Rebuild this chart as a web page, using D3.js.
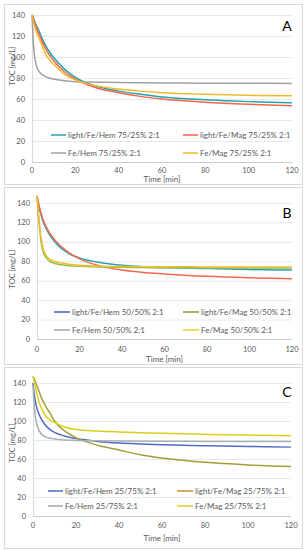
<!DOCTYPE html>
<html>
<head>
<meta charset="utf-8">
<script src="https://cdn.jsdelivr.net/npm/d3@7"></script>
<style>
    body { margin: 0; background: #fff; }
    svg { display: block; font-family: "Lato", "Liberation Sans", sans-serif; }
</style>
</head>
<body>
<svg id="chart" width="307" height="550"></svg>
<script>
// sample times (min), shared by every series
const TIMES = [0, 0.5, 1, 2, 3, 4, 6, 8, 10, 15, 20, 30, 40, 50, 60, 80, 100, 120]
const X_TICKS = [0, 20, 40, 60, 80, 100, 120]
const Y_TICKS = [0, 20, 40, 60, 80, 100, 120, 140]

// panel A: 75/25%
const A_NAMES = ["light/Fe/Hem 75/25% 2:1", "light/Fe/Mag 75/25% 2:1", "Fe/Hem 75/25% 2:1", "Fe/Mag 75/25% 2:1"]
const A_LIGHT_HEM = [140, 138, 135, 130, 126, 121, 112, 105, 99.5, 88.5, 80.5, 72, 67.5, 64.5, 62, 59.3, 57.5, 56.5]
const A_LIGHT_MAG = [140, 137.5, 134, 128, 123, 118, 109, 102, 96.5, 86, 79, 70.5, 66, 62.5, 60, 57, 55, 53.5]
const A_HEM = [140, 118, 104, 92, 87, 84.5, 81.5, 80, 79, 77.3, 76.5, 76, 75.7, 75.5, 75.3, 75.1, 75, 74.8]
const A_MAG = [140, 135, 131, 124, 119, 114, 104, 97.5, 93, 83.5, 78.2, 72.5, 69.5, 67.5, 66, 64.5, 63.5, 63]

// panel B: 50/50%
const B_NAMES = ["light/Fe/Hem 50/50% 2:1", "light/Fe/Mag 50/50% 2:1", "Fe/Hem 50/50% 2:1", "Fe/Mag 50/50% 2:1"]
const B_LIGHT_HEM = [147, 141, 136, 127, 120, 115, 107, 101, 96, 88, 83.5, 78.5, 76, 74.5, 73.5, 72.5, 71.5, 71]
const B_LIGHT_MAG = [147, 142, 137, 129, 122, 117, 109, 103, 98, 89, 82.5, 75, 71, 68.5, 67, 64.5, 63, 62]
const B_HEM = [147, 132, 119, 99, 89, 84.5, 80, 78, 77, 75.5, 75, 74.2, 73.8, 73.5, 73.3, 73.2, 73.1, 73]
const B_MAG = [148, 134, 122, 103, 92, 87, 82, 80, 79, 77, 76, 75, 74.6, 74.4, 74.3, 74.2, 74, 74]

// panel C: 25/75%
const C_NAMES = ["light/Fe/Hem 25/75% 2:1", "light/Fe/Mag 25/75% 2:1", "Fe/Hem 25/75% 2:1", "Fe/Mag 25/75% 2:1"]
const C_LIGHT_HEM = [140, 130, 122, 112, 106, 101.5, 95, 91, 88, 84, 81.5, 78.5, 76.8, 75.8, 75, 74, 73.2, 72.5]
const C_LIGHT_MAG = [147, 145, 142, 136, 130, 124, 115, 108, 100, 89, 82.5, 74.5, 69.5, 64.5, 61, 56.5, 53.8, 52]
const C_HEM = [138, 118, 106, 95, 89, 86, 83, 81.8, 81, 80, 79.6, 79.2, 79, 78.8, 78.7, 78.5, 78.4, 78.3]
const C_MAG = [147, 142, 137, 127, 119, 113, 105, 101, 98.5, 93.5, 91, 89.5, 88.5, 87.7, 87, 86, 85.2, 84.5]

// line colours in the plot and (not always the same) colours in the legend
const A_LINE_COLORS = ["#1fa5aa", "#f4654c", "#a0a0a0", "#f6b62c"]
const A_KEY_COLORS = A_LINE_COLORS
const B_LINE_COLORS = ["#2aa0b2", "#f06a50", "#8cc04c", "#f5bb2a"]
const B_KEY_COLORS = ["#4a5bc0", "#8c9a2e", "#a3a3a3", "#e4d41e"]
const C_LINE_COLORS = ["#5468c4", "#a59e38", "#a7b2b2", "#d8d01c"]
const C_KEY_COLORS = ["#4f66c2", "#c28f2c", "#a3a3a3", "#dccc1e"]

const panels = [
    { letter: "A", box: [4, 4, 298, 180], x: [32, 292], y: [162, 15], names: A_NAMES,
      series: [A_LIGHT_HEM, A_LIGHT_MAG, A_HEM, A_MAG], lineColors: A_LINE_COLORS, keyColors: A_KEY_COLORS,
      xLabelY: 170, titleY: 182, yTitleX: 12, yTitleY: 66, tickX: 25,
      legend: { rows: [135, 153], line: [[51, 66], [183, 198]] }, letterPos: [287, 31] },
    { letter: "B", box: [4, 187, 298, 177], x: [37, 292], y: [339, 203], names: B_NAMES,
      series: [B_LIGHT_HEM, B_LIGHT_MAG, B_HEM, B_MAG], lineColors: B_LINE_COLORS, keyColors: B_KEY_COLORS,
      xLabelY: 349, titleY: 362, yTitleX: 12, yTitleY: 269, tickX: 30,
      legend: { rows: [312, 330], line: [[54, 70], [183, 199]] }, letterPos: [287, 218] },
    { letter: "C", box: [4, 367, 298, 181], x: [33, 291], y: [516, 383], names: C_NAMES,
      series: [C_LIGHT_HEM, C_LIGHT_MAG, C_HEM, C_MAG], lineColors: C_LINE_COLORS, keyColors: C_KEY_COLORS,
      xLabelY: 525, titleY: 541, yTitleX: 12, yTitleY: 443, tickX: 26,
      legend: { rows: [491, 506], line: [[48, 63], [177, 193]] }, letterPos: [287, 397] }
]

const svg = d3.select("#chart")

function drawPanel(p) {
    const g = svg.append("g")

    g.append("rect")
        .attr("x", p.box[0] + 0.5).attr("y", p.box[1] + 0.5)
        .attr("width", p.box[2]).attr("height", p.box[3])
        .attr("fill", "#fff").attr("stroke", "#d9d9d9")

    const x = d3.scaleLinear().domain([0, 120]).range(p.x)
    const y = d3.scaleLinear().domain([0, 140]).range(p.y)

    // horizontal gridlines
    g.append("g")
        .attr("transform", `translate(${p.x[0]},0)`)
        .call(d3.axisLeft(y).tickValues(Y_TICKS.slice(1)).tickSize(-(p.x[1] - p.x[0])).tickFormat(""))
        .call(a => a.select(".domain").remove())
        .selectAll("line").attr("stroke", "#e3e3e3").attr("stroke-width", 0.8)

    // y tick labels
    g.append("g")
        .selectAll("text").data(Y_TICKS).join("text")
        .attr("x", p.tickX).attr("y", d => y(d)).attr("dy", "0.35em")
        .attr("text-anchor", "end").attr("font-size", 7.5).attr("fill", "#595959")
        .text(d => d)

    // axes lines
    g.append("line")
        .attr("x1", p.x[0]).attr("x2", p.x[1]).attr("y1", y(0) + 0.5).attr("y2", y(0) + 0.5)
        .attr("stroke", "#bfbfbf").attr("stroke-width", 0.8)
    g.append("line")
        .attr("x1", p.x[0] + 0.5).attr("x2", p.x[0] + 0.5).attr("y1", y(0)).attr("y2", y(140))
        .attr("stroke", "#cfcfcf").attr("stroke-width", 0.8)

    // x tick labels
    g.append("g")
        .selectAll("text").data(X_TICKS).join("text")
        .attr("x", d => x(d)).attr("y", p.xLabelY).attr("dy", "0.35em")
        .attr("text-anchor", "middle").attr("font-size", 7.5).attr("fill", "#595959")
        .text(d => d)

    g.append("text")
        .attr("x", (p.x[0] + p.x[1]) / 2).attr("y", p.titleY)
        .attr("text-anchor", "middle").attr("font-size", 8).attr("fill", "#595959")
        .text("Time [min]")

    g.append("text")
        .attr("transform", `translate(${p.yTitleX},${p.yTitleY}) rotate(-90)`)
        .attr("text-anchor", "middle").attr("dy", "0.35em").attr("font-size", 7.5).attr("fill", "#595959")
        .text("TOC [mg/L]")

    // curves
    const line = d3.line()
        .x((d, i) => x(TIMES[i]))
        .y(d => y(d))
        .curve(d3.curveMonotoneX)

    p.series.forEach((s, i) => {
        g.append("path")
            .datum(s)
            .attr("fill", "none")
            .attr("stroke", p.lineColors[i])
            .attr("stroke-width", 1.5)
            .attr("d", line)
    })

    // legend, 2 x 2
    p.names.forEach((name, i) => {
        const row = Math.floor(i / 2), col = i % 2
        const ly = p.legend.rows[row]
        const lx = p.legend.line[col]
        g.append("line")
            .attr("x1", lx[0]).attr("x2", lx[1]).attr("y1", ly).attr("y2", ly)
            .attr("stroke", p.keyColors[i]).attr("stroke-width", 1.5)
        g.append("text")
            .attr("x", lx[1] + 2).attr("y", ly).attr("dy", "0.35em")
            .attr("font-size", 8).attr("fill", "#595959")
            .text(name)
    })

    g.append("text")
        .attr("x", p.letterPos[0]).attr("y", p.letterPos[1])
        .attr("text-anchor", "middle").attr("font-size", 14).attr("fill", "#000")
        .text(p.letter)
}

panels.forEach(drawPanel)
</script>
</body>
</html>
